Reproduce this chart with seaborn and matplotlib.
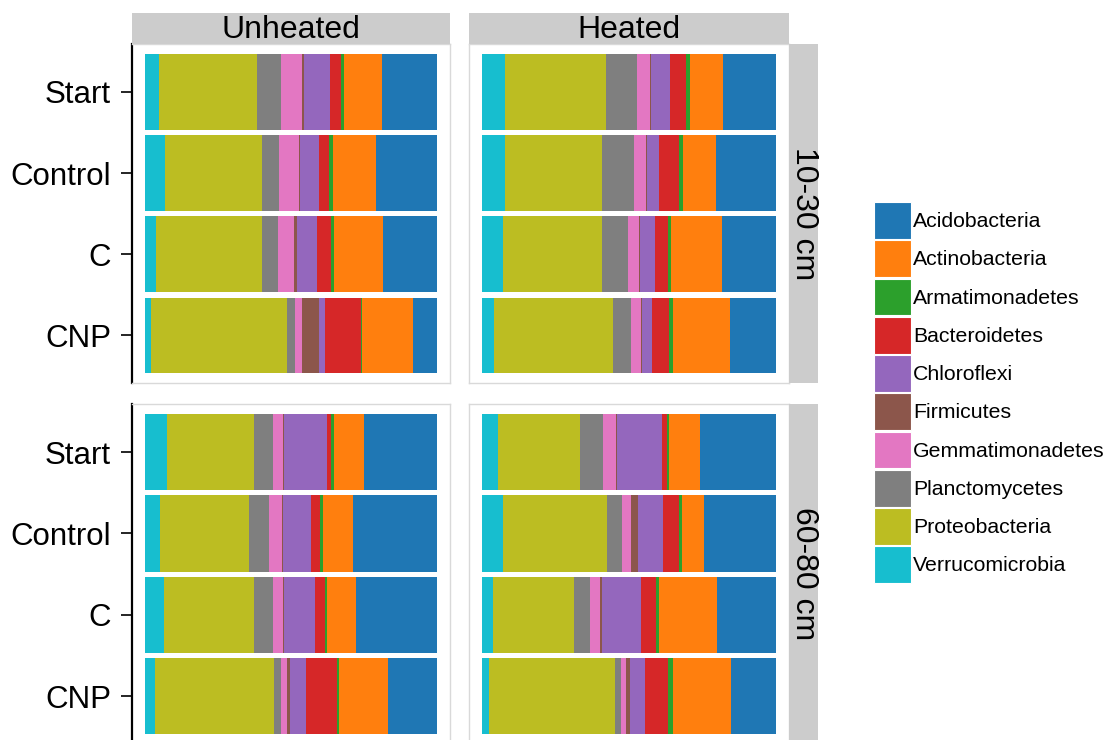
import numpy as np
import pandas as pd
import matplotlib
matplotlib.use("Agg")
import matplotlib.pyplot as plt
from matplotlib.patches import Patch
import seaborn as sns

sns.set_style("white")
plt.rcParams["font.family"] = ["Liberation Sans", "DejaVu Sans"]
plt.rcParams["text.color"] = "black"

W, H = 1109, 740

depths = ["10-30 cm", "60-80 cm"]
heating = ["Unheated", "Heated"]
treatments = ["Start", "Control", "C", "CNP"]

# Legend order (alphabetical); bars are stacked from the last one on the left
phyla = ["Acidobacteria", "Actinobacteria", "Armatimonadetes", "Bacteroidetes",
         "Chloroflexi", "Firmicutes", "Gemmatimonadetes", "Planctomycetes",
         "Proteobacteria", "Verrucomicrobia"]
colors = ["#1f77b4", "#ff7f0e", "#2ca02c", "#d62728", "#9467bd",
          "#8c564b", "#e377c2", "#7f7f7f", "#bcbd22", "#17becf"]

# Relative abundance (%), ordered: depth -> heating -> treatment
acidobacteria    = [18.6, 20.8, 18.4, 8.1,  17.9, 20.4, 18.2, 15.6,
                    24.9, 28.7, 27.6, 16.7, 25.9, 24.4, 20.0, 15.3]
actinobacteria   = [13.1, 14.7, 16.8, 17.6, 11.5, 11.3, 17.3, 19.5,
                    10.3, 10.4, 9.9, 16.8,  10.4, 7.4, 19.7, 19.8]
armatimonadetes  = [1.0, 1.4, 0.9, 0.3,     1.1, 1.4, 1.1, 1.1,
                    0.9, 0.9, 0.7, 0.7,     0.9, 1.1, 0.9, 1.6]
bacteroidetes    = [3.8, 3.5, 5.0, 12.1,    5.7, 6.5, 4.6, 5.8,
                    1.4, 3.1, 3.4, 10.6,    1.7, 5.6, 5.1, 7.7]
chloroflexi      = [9.1, 6.4, 6.8, 2.3,     6.3, 4.2, 5.0, 3.5,
                    14.7, 9.7, 10.7, 5.4,   15.3, 8.4, 13.4, 5.2]
firmicutes       = [0.6, 0.5, 0.9, 5.7,     0.5, 0.3, 0.3, 0.3,
                    0.3, 0.2, 0.3, 1.1,     0.3, 2.5, 0.8, 1.5]
gemmatimonadetes = [7.2, 6.6, 5.7, 2.6,     4.3, 4.3, 3.6, 3.3,
                    3.5, 4.3, 3.4, 2.2,     4.4, 3.0, 3.4, 1.6]
planctomycetes   = [8.2, 5.9, 5.2, 2.4,     10.7, 10.9, 9.1, 6.4,
                    6.5, 6.8, 6.4, 2.3,     7.7, 5.1, 5.2, 1.9]
proteobacteria   = [33.4, 33.2, 36.3, 46.8, 34.5, 32.9, 33.7, 40.3,
                    29.8, 30.7, 30.8, 40.6, 27.9, 35.3, 27.7, 42.9]
verrucomicrobia  = [4.8, 6.8, 3.8, 1.9,     7.7, 7.7, 6.9, 4.1,
                    7.5, 5.0, 6.5, 3.5,     5.5, 7.2, 3.6, 2.4]

series = [acidobacteria, actinobacteria, armatimonadetes, bacteroidetes,
          chloroflexi, firmicutes, gemmatimonadetes, planctomycetes,
          proteobacteria, verrucomicrobia]

rows = []
i = 0
for d in depths:
    for h in heating:
        for t in treatments:
            for p, vals in zip(phyla, series):
                rows.append(dict(depth=d, heating=h, treatment=t, phylum=p, value=vals[i]))
            i += 1
df = pd.DataFrame(rows)
df["prop"] = df["value"] / df.groupby(["depth", "heating", "treatment"])["value"].transform("sum")

# cumulative position of each segment's right edge (stack starts with Verrucomicrobia)
stack_order = phyla[::-1]
df["rank"] = df["phylum"].map({p: k for k, p in enumerate(stack_order)})
df = df.sort_values(["depth", "heating", "treatment", "rank"])
df["cum"] = df.groupby(["depth", "heating", "treatment"])["prop"].cumsum()

fig = plt.figure(figsize=(W / 100, H / 100), dpi=100)

def px_axes(x0, y0, x1, y1, **kw):
    return fig.add_axes([x0 / W, 1 - y1 / H, (x1 - x0) / W, (y1 - y0) / H], **kw)

col_x = [(132, 450), (469, 789)]
row_y = [(44, 383), (404, 744)]
strip_grey = "#CCCCCC"
border_grey = "#D9D9D9"
color_map = dict(zip(phyla, colors))

for r, d in enumerate(depths):
    for c, h in enumerate(heating):
        (x0, x1), (y0, y1) = col_x[c], row_y[r]
        ax = px_axes(x0, y0, x1, y1)
        sub = df[(df["depth"] == d) & (df["heating"] == h)]
        # draw longest cumulative first so shorter ones sit on top
        for p in phyla:
            s = sub[sub["phylum"] == p]
            sns.barplot(data=s, x="cum", y="treatment", order=treatments,
                        orient="h", color=color_map[p], saturation=1,
                        width=0.935, linewidth=0, errorbar=None, ax=ax)
        ax.set_xlim(-0.045, 1.045)
        ax.set_ylim(3.585, -0.59)
        ax.set_xlabel("")
        ax.set_ylabel("")
        ax.set_xticks([])
        for sp in ax.spines.values():
            sp.set_visible(True)
            sp.set_color(border_grey)
            sp.set_linewidth(1.0)
        if c == 0:
            ax.spines["left"].set_color("black")
            ax.spines["left"].set_linewidth(1.6)
            ax.tick_params(axis="y", left=True, length=8, width=1.2,
                           color="black", pad=7, labelsize=22.5, labelcolor="black")
        else:
            ax.set_yticks([])

        if r == 0:
            sax = px_axes(x0, 13, x1, 44)
            sax.set_facecolor(strip_grey)
            sax.set_xticks([]); sax.set_yticks([])
            for sp in sax.spines.values():
                sp.set_visible(False)
            sax.text(0.5, 0.45, h, ha="center", va="center", fontsize=23,
                     color="black", transform=sax.transAxes)
    rax = px_axes(789, row_y[r][0], 818, row_y[r][1])
    rax.set_facecolor(strip_grey)
    rax.set_xticks([]); rax.set_yticks([])
    for sp in rax.spines.values():
        sp.set_visible(False)
    rax.text(0.5, 0.5, d, ha="center", va="center", rotation=270,
             fontsize=23, color="black", transform=rax.transAxes)

handles = [Patch(facecolor=col, edgecolor="white", linewidth=0.8, label=p)
           for p, col in zip(phyla, colors)]
fig.legend(handles=handles, loc="upper left",
           bbox_to_anchor=(874 / W, 1 - 202 / H), frameon=False,
           fontsize=15.3, handlelength=1.74, handleheight=2.30,
           labelspacing=0.06, handletextpad=0.1, borderpad=0, borderaxespad=0,
           labelcolor="black")

fig.savefig("out.png", dpi=100)
